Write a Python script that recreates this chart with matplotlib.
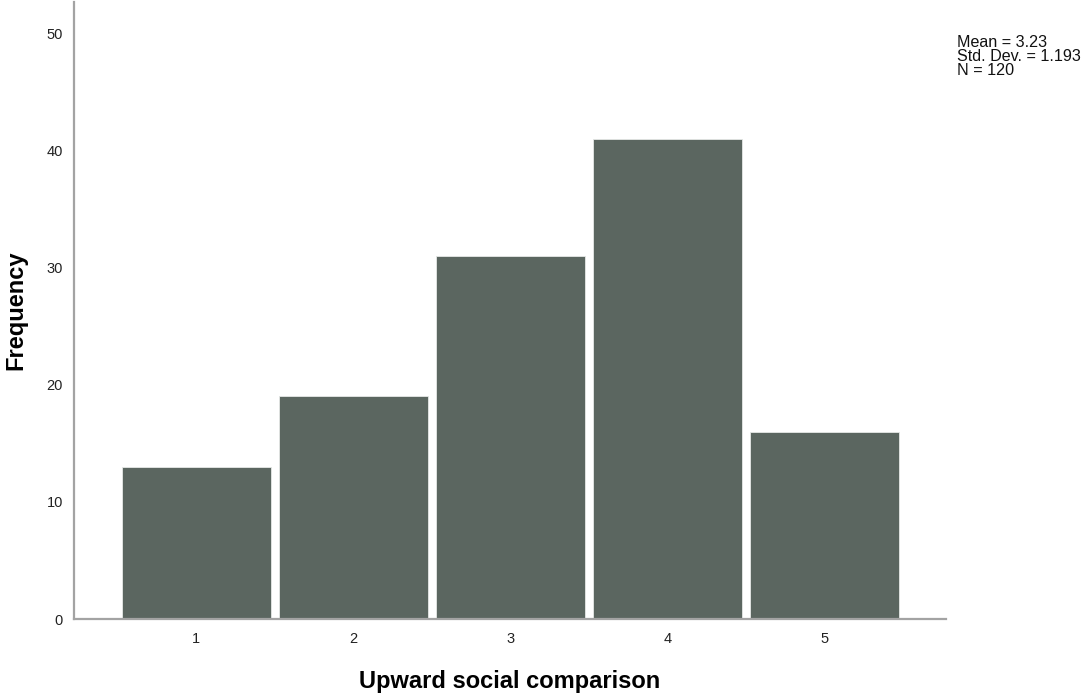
import numpy as np
import matplotlib.pyplot as plt

plt.rcParams['font.family'] = ['Liberation Sans', 'DejaVu Sans']

# histogram of upward social comparison scores
scores = [1, 2, 3, 4, 5]
counts = [13, 19, 31, 41, 16]
stats_text = "Mean = 3.23\nStd. Dev. = 1.193\nN = 120"

fig = plt.figure(figsize=(10.83, 6.94), dpi=100)
ax = fig.add_axes([0.0683, 0.108, 0.8052, 0.889])

ax.bar(scores, counts, width=0.95, color="#5b6660", edgecolor="#e6e8e6", linewidth=0.6)

ax.set_xlim(0.22, 5.774)
ax.set_ylim(0, 52.65)
ax.set_xticks(scores)
ax.set_yticks([0, 10, 20, 30, 40, 50])
ax.tick_params(length=0, labelsize=10.5, colors="#222222")
ax.tick_params(axis='x', pad=9)
ax.tick_params(axis='y', pad=8)

for s in ["top", "right"]:
    ax.spines[s].set_visible(False)
for s in ["left", "bottom"]:
    ax.spines[s].set_color("#a3a3a3")
    ax.spines[s].set_linewidth(1.6)

ax.set_xlabel("Upward social comparison", fontsize=17, fontweight="bold")
ax.set_ylabel("Frequency", fontsize=17, fontweight="bold")
ax.xaxis.set_label_coords(0.5, -0.082)
ax.yaxis.set_label_coords(-0.054, 0.5)

fig.text(0.884, 0.949, stats_text, fontsize=11.6, va="top", ha="left",
         color="#111111", linespacing=0.92)

fig.savefig("out.png", dpi=100)
